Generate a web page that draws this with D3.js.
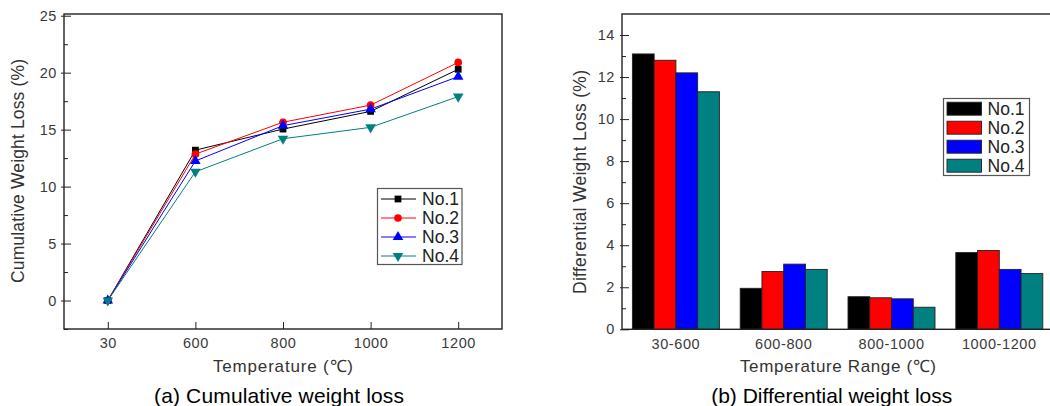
<!DOCTYPE html>
<html><head><meta charset="utf-8">
<script src="https://cdn.jsdelivr.net/npm/d3@7"></script>
<style>
body{margin:0;background:#fff;}
svg{display:block;font-family:"Liberation Sans",Arial,sans-serif;}
.tick text{fill:#3a3a3a;letter-spacing:0.6px;}
</style></head><body>
<svg id="c" width="1050" height="406"></svg>
<script>
// ---- data ----
const temps = ["30","600","800","1000","1200"];
const seriesNames = ["No.1","No.2","No.3","No.4"];
const cum1 = [0, 13.2, 15.05, 16.6, 20.3];
const cum2 = [0, 12.85, 15.65, 17.15, 20.9];
const cum3 = [0, 12.25, 15.35, 16.8, 19.65];
const cum4 = [0, 11.3, 14.2, 15.2, 17.9];
const ranges = ["30-600","600-800","800-1000","1000-1200"];
const diff1 = [13.1, 1.95, 1.55, 3.65];
const diff2 = [12.8, 2.75, 1.5, 3.75];
const diff3 = [12.2, 3.1, 1.45, 2.85];
const diff4 = [11.3, 2.85, 1.05, 2.65];
const leftTicks = [0,5,10,15,20,25];
const rightTicks = [0,2,4,6,8,10,12,14];
const colors = ["#000000","#ff0000","#0000ff","#008080"];
const symbols = [d3.symbolSquare, d3.symbolCircle, d3.symbolTriangle, d3.symbolTriangle];
const symSize = [46, 46, 48, 48];
const symRot = [0,0,0,180];

const svg = d3.select("#c");
const cumData = [cum1,cum2,cum3,cum4];
const diffData = [diff1,diff2,diff3,diff4];

// ---- left chart ----
const L = {x0:64, x1:502, y0:14, y1:329};
const xL = d3.scalePoint().domain(temps).range([L.x0,L.x1]).padding(0.5);
const yL = d3.scaleLinear().domain([-2.5,25.15]).range([L.y1,L.y0]);
const gL = svg.append("g");

gL.append("g").attr("transform",`translate(${L.x0},0)`)
  .call(d3.axisLeft(yL).tickValues(d3.range(-2.5,25,5)).tickSize(-4).tickFormat(""))
  .call(g=>g.select(".domain").remove())
  .call(g=>g.selectAll("line").attr("stroke","#222"));
gL.append("g").attr("transform",`translate(${L.x0},0)`)
  .call(d3.axisLeft(yL).tickValues(leftTicks).tickSize(-7).tickPadding(7))
  .call(g=>g.select(".domain").remove())
  .call(g=>g.selectAll("line").attr("stroke","#222").attr("x1",-3))
  .call(g=>g.selectAll("text").attr("font-size","14.5px").attr("font-family","Liberation Sans, Arial, sans-serif"));
gL.append("g").attr("transform",`translate(0,${L.y1})`)
  .call(d3.axisBottom(xL).tickSize(-7).tickPadding(9))
  .call(g=>g.select(".domain").remove())
  .call(g=>g.selectAll("line").attr("stroke","#222"))
  .call(g=>g.selectAll("text").attr("font-size","14.5px").attr("font-family","Liberation Sans, Arial, sans-serif"));
gL.append("rect").attr("x",L.x0).attr("y",L.y0).attr("width",L.x1-L.x0).attr("height",L.y1-L.y0)
  .attr("fill","none").attr("stroke","#222").attr("stroke-width",1.4);

const line = d3.line().x((d,i)=>xL(temps[i])).y(d=>yL(d));
cumData.forEach((s,k)=>{
  gL.append("path").datum(s).attr("d",line).attr("fill","none").attr("stroke",colors[k]).attr("stroke-width",1);
});
cumData.forEach((s,k)=>{
  gL.selectAll(null).data(s).enter().append("path")
    .attr("d",d3.symbol(symbols[k],symSize[k]))
    .attr("transform",(d,i)=>`translate(${xL(temps[i])},${yL(d)}) rotate(${symRot[k]})`)
    .attr("fill",colors[k]);
});

// left legend
const lg = gL.append("g");
lg.append("rect").attr("x",377.5).attr("y",188.5).attr("width",84.5).attr("height",76)
  .attr("fill","#fff").attr("stroke","#555").attr("stroke-width",1.2);
seriesNames.forEach((n,k)=>{
  const yy = 199 + k*19;
  lg.append("line").attr("x1",381).attr("x2",416).attr("y1",yy).attr("y2",yy).attr("stroke",colors[k]).attr("stroke-width",1);
  lg.append("path").attr("d",d3.symbol(symbols[k],symSize[k])).attr("transform",`translate(398,${yy}) rotate(${symRot[k]})`).attr("fill",colors[k]);
  lg.append("text").attr("x",422).attr("y",yy+6.3).attr("font-size","17.5px").attr("fill","#222")
    .attr("textLength",37).attr("lengthAdjust","spacing").text(n);
});

gL.append("text").attr("transform","translate(23.5,171) rotate(-90)").attr("text-anchor","middle")
  .attr("font-size","17.5px").attr("fill","#333").attr("textLength",224).attr("lengthAdjust","spacing")
  .text("Cumulative Weight Loss (%)");
gL.append("text").attr("x",283).attr("y",372).attr("text-anchor","middle")
  .attr("font-size","17px").attr("fill","#333").attr("textLength",140).attr("lengthAdjust","spacing")
  .text("Temperature (℃)");
gL.append("text").attr("x",279).attr("y",402.5).attr("text-anchor","middle")
  .attr("font-size","21px").attr("fill","#000").attr("textLength",250).attr("lengthAdjust","spacing")
  .text("(a) Cumulative weight loss");

// ---- right chart ----
const R = {x0:622, x1:1053.2, y0:14, y1:329.3};
const xR = d3.scaleBand().domain(ranges).range([R.x0,R.x1]).paddingInner(0.193).paddingOuter(0.0965);
const xS = d3.scaleBand().domain(seriesNames).range([0,xR.bandwidth()]);
const yR = d3.scaleLinear().domain([0,15]).range([R.y1,R.y0]);
const gR = svg.append("g");

gR.append("g").attr("transform",`translate(${R.x0},0)`)
  .call(d3.axisLeft(yR).tickValues(d3.range(1,15,2)).tickSize(-4).tickFormat(""))
  .call(g=>g.select(".domain").remove())
  .call(g=>g.selectAll("line").attr("stroke","#222"));
gR.append("g").attr("transform",`translate(${R.x0},0)`)
  .call(d3.axisLeft(yR).tickValues(rightTicks).tickSize(-7).tickPadding(7))
  .call(g=>g.select(".domain").remove())
  .call(g=>g.selectAll("line").attr("stroke","#222").attr("x1",-2))
  .call(g=>g.selectAll("text").attr("font-size","14.5px").attr("font-family","Liberation Sans, Arial, sans-serif"));
gR.append("g").attr("transform",`translate(0,${R.y1})`)
  .call(d3.axisBottom(xR).tickSize(0).tickPadding(9))
  .call(g=>g.select(".domain").remove())
  .call(g=>g.selectAll("text").attr("font-size","14.5px").attr("font-family","Liberation Sans, Arial, sans-serif"));

diffData.forEach((s,k)=>{
  gR.selectAll(null).data(s).enter().append("rect")
    .attr("x",(d,i)=>xR(ranges[i])+xS(seriesNames[k]))
    .attr("y",d=>yR(d))
    .attr("width",xS.bandwidth())
    .attr("height",d=>yR(0)-yR(d))
    .attr("fill",colors[k]).attr("stroke","#222").attr("stroke-width",0.9);
});
gR.append("rect").attr("x",R.x0).attr("y",R.y0).attr("width",R.x1-R.x0).attr("height",R.y1-R.y0)
  .attr("fill","none").attr("stroke","#222").attr("stroke-width",1.4);

const rg = gR.append("g");
rg.append("rect").attr("x",943.5).attr("y",98.5).attr("width",86).attr("height",77)
  .attr("fill","#fff").attr("stroke","#555").attr("stroke-width",1.2);
seriesNames.forEach((n,k)=>{
  const yy = 108.7 + k*19;
  rg.append("rect").attr("x",947).attr("y",yy-6.5).attr("width",34.5).attr("height",13)
    .attr("fill",colors[k]).attr("stroke","#222").attr("stroke-width",0.9);
  rg.append("text").attr("x",987.5).attr("y",yy+6.3).attr("font-size","17.5px").attr("fill","#222")
    .attr("textLength",37).attr("lengthAdjust","spacing").text(n);
});

gR.append("text").attr("transform","translate(585.5,182) rotate(-90)").attr("text-anchor","middle")
  .attr("font-size","17.5px").attr("fill","#333").attr("textLength",224).attr("lengthAdjust","spacing")
  .text("Differential Weight Loss (%)");
gR.append("text").attr("x",838).attr("y",372).attr("text-anchor","middle")
  .attr("font-size","17px").attr("fill","#333").attr("textLength",196).attr("lengthAdjust","spacing")
  .text("Temperature Range (℃)");
gR.append("text").attr("x",831.7).attr("y",402.5).attr("text-anchor","middle")
  .attr("font-size","21px").attr("fill","#000").attr("textLength",241).attr("lengthAdjust","spacing")
  .text("(b) Differential weight loss");
</script></body></html>
